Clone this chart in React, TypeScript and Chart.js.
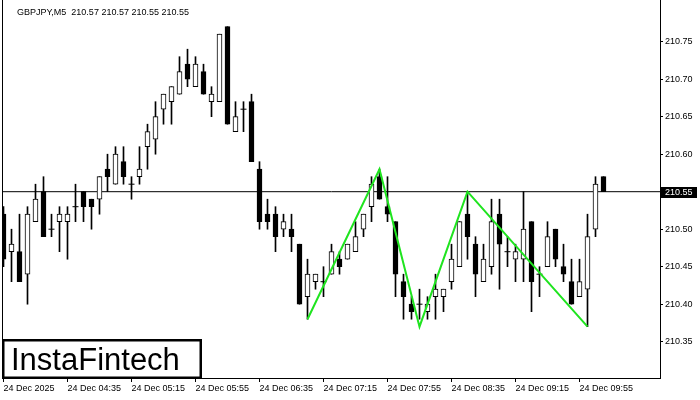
import React, { useEffect, useRef } from "react";
import { Chart, registerables } from "chart.js";

Chart.register(...registerables);

const symbol = "GBPJPY,M5";
const tickIdx = [0, 8, 16, 24, 32, 40, 48, 56, 64, 72];
const tickLabels = [
  "24 Dec 2025", "24 Dec 04:35", "24 Dec 05:15", "24 Dec 05:55", "24 Dec 06:35",
  "24 Dec 07:15", "24 Dec 07:55", "24 Dec 08:35", "24 Dec 09:15", "24 Dec 09:55",
];
const priceTicks = [210.35, 210.4, 210.45, 210.5, 210.55, 210.6, 210.65, 210.7, 210.75];

const open = [
  210.52, 210.47, 210.47, 210.44, 210.51, 210.55, 210.50, 210.51, 210.51, 210.53,
  210.55, 210.54, 210.54, 210.58, 210.56, 210.59, 210.56, 210.57, 210.61, 210.62,
  210.66, 210.67, 210.68, 210.72, 210.69, 210.71, 210.67, 210.67, 210.77, 210.63,
  210.66, 210.67, 210.58, 210.52, 210.52, 210.50, 210.50, 210.48, 210.41, 210.43,
  210.43, 210.44, 210.46, 210.46, 210.47, 210.50, 210.53, 210.57, 210.53, 210.51,
  210.43, 210.40, 210.40, 210.39, 210.41, 210.41, 210.43, 210.45, 210.52, 210.48,
  210.43, 210.45, 210.52, 210.47, 210.46, 210.46, 210.51, 210.44, 210.45, 210.50,
  210.45, 210.43, 210.41, 210.42, 210.50, 210.57,
];
const high = [
  210.53, 210.50, 210.52, 210.53, 210.56, 210.57, 210.52, 210.53, 210.53, 210.56,
  210.55, 210.54, 210.57, 210.60, 210.61, 210.61, 210.57, 210.61, 210.64, 210.67,
  210.68, 210.69, 210.73, 210.74, 210.73, 210.72, 210.69, 210.76, 210.77, 210.67,
  210.67, 210.68, 210.59, 210.54, 210.53, 210.52, 210.52, 210.48, 210.46, 210.44,
  210.45, 210.48, 210.47, 210.48, 210.51, 210.52, 210.57, 210.58, 210.57, 210.51,
  210.44, 210.41, 210.42, 210.41, 210.44, 210.42, 210.48, 210.51, 210.55, 210.49,
  210.48, 210.54, 210.54, 210.49, 210.48, 210.55, 210.51, 210.45, 210.51, 210.50,
  210.48, 210.46, 210.46, 210.52, 210.57, 210.57,
];
const low = [
  210.45, 210.43, 210.43, 210.40, 210.51, 210.49, 210.49, 210.47, 210.46, 210.51,
  210.51, 210.50, 210.52, 210.55, 210.56, 210.56, 210.54, 210.56, 210.58, 210.60,
  210.64, 210.64, 210.68, 210.69, 210.69, 210.68, 210.65, 210.67, 210.64, 210.63,
  210.63, 210.59, 210.50, 210.50, 210.47, 210.49, 210.47, 210.40, 210.38, 210.42,
  210.41, 210.44, 210.44, 210.46, 210.47, 210.49, 210.51, 210.54, 210.51, 210.41,
  210.38, 210.38, 210.38, 210.38, 210.38, 210.39, 210.42, 210.45, 210.46, 210.41,
  210.43, 210.44, 210.42, 210.45, 210.43, 210.43, 210.39, 210.41, 210.45, 210.45,
  210.43, 210.40, 210.41, 210.37, 210.49, 210.55,
];
const close = [
  210.46, 210.48, 210.43, 210.52, 210.54, 210.49, 210.50, 210.52, 210.52, 210.53,
  210.53, 210.53, 210.57, 210.57, 210.60, 210.57, 210.56, 210.58, 210.63, 210.65,
  210.68, 210.69, 210.71, 210.70, 210.72, 210.68, 210.68, 210.76, 210.64, 210.65,
  210.66, 210.59, 210.51, 210.51, 210.49, 210.51, 210.49, 210.40, 210.44, 210.44,
  210.43, 210.47, 210.45, 210.48, 210.49, 210.52, 210.56, 210.54, 210.52, 210.44,
  210.41, 210.39, 210.40, 210.40, 210.42, 210.42, 210.46, 210.51, 210.49, 210.44,
  210.46, 210.51, 210.48, 210.47, 210.47, 210.50, 210.43, 210.44, 210.49, 210.46,
  210.44, 210.40, 210.43, 210.49, 210.56, 210.55,
];

const patternIdx = [38, 47, 52, 58, 73];
const patternPrice = [210.38, 210.58, 210.37, 210.55, 210.37];
const bidPrice = 210.55;
const logoText = "InstaFintech";

const X_MIN = -0.0625;
const X_MAX = 82.0625;
const Y_MIN = 210.3016;
const Y_MAX = 210.8056;
const FONT = "'Liberation Sans', Arial, sans-serif";

const decor = {
  id: "decor",
  afterDraw(chart: any) {
    const { ctx, chartArea: a, scales } = chart;
    const ys = scales.y;
    ctx.save();
    // left frame line
    ctx.strokeStyle = "#000";
    ctx.lineWidth = 1;
    ctx.beginPath();
    ctx.moveTo(2.5, 0);
    ctx.lineTo(2.5, a.bottom);
    ctx.stroke();
    // title
    const last = close.length - 1;
    const title = `${symbol}  ${open[last].toFixed(2)} ${high[last].toFixed(2)} ${low[last].toFixed(2)} ${close[last].toFixed(2)}`;
    ctx.fillStyle = "#000";
    ctx.font = `9px ${FONT}`;
    ctx.textBaseline = "middle";
    ctx.textAlign = "left";
    ctx.fillText(title, 17, 12.5);
    // bid price box
    const py = Math.round(ys.getPixelForValue(bidPrice));
    ctx.fillStyle = "#000";
    ctx.fillRect(661, py - 5, 36, 11);
    ctx.fillStyle = "#fff";
    ctx.fillText(bidPrice.toFixed(2), 665, py + 0.5);
    // logo box
    ctx.fillStyle = "#fff";
    ctx.fillRect(3, 340, 198, 38);
    ctx.strokeStyle = "#000";
    ctx.lineWidth = 2.5;
    ctx.strokeRect(3.25, 340.25, 197.5, 37.5);
    ctx.fillStyle = "#000";
    ctx.font = `31px ${FONT}`;
    ctx.textBaseline = "alphabetic";
    ctx.fillText(logoText, 11, 370);
    ctx.restore();
  },
};

export default function App() {
  const ref = useRef<HTMLCanvasElement | null>(null);
  useEffect(() => {
    if (!ref.current) return;
    const idx = open.map((_, i) => i);
    const dojiIdx = idx.filter((i) => open[i] === close[i]);
    const chart = new Chart(ref.current, {
      type: "bar",
      data: {
        datasets: [
          {
            type: "line",
            label: "pattern",
            data: patternIdx.map((x, k) => ({ x, y: patternPrice[k] })),
            borderColor: "#1fe41f",
            borderWidth: 2,
            pointRadius: 0,
            order: -1,
          } as any,
          {
            type: "scatter",
            label: "doji",
            data: dojiIdx.map((i) => ({ x: i, y: open[i] })),
            pointStyle: "line",
            radius: 3,
            borderColor: "#000",
            borderWidth: 1,
            order: 0,
          } as any,
          {
            type: "bar",
            label: "body",
            data: idx.filter((i) => open[i] !== close[i]).map((i) => ({ x: i, y: [open[i], close[i]] })),
            barThickness: 5,
            grouped: false,
            borderWidth: 1,
            borderSkipped: false,
            borderColor: "#000",
            backgroundColor: (c: any) => {
              const raw = c.raw;
              if (!raw) return "#fff";
              return raw.y[1] > raw.y[0] ? "#fff" : "#000";
            },
            order: 1,
          } as any,
          {
            type: "bar",
            label: "wick",
            data: idx.map((i) => ({ x: i, y: [low[i], high[i]] })),
            barThickness: 1,
            grouped: false,
            borderWidth: 0,
            backgroundColor: "#000",
            order: 2,
          } as any,
          {
            type: "line",
            label: "bid",
            data: [
              { x: X_MIN, y: bidPrice },
              { x: X_MAX, y: bidPrice },
            ],
            borderColor: "#000",
            borderWidth: 1,
            pointRadius: 0,
            order: 3,
          } as any,
        ],
      },
      options: {
        animation: false,
        responsive: false,
        devicePixelRatio: 1,
        events: [],
        layout: { autoPadding: false, padding: { left: 3, right: 0, top: 0, bottom: 0 } },
        plugins: { legend: { display: false }, tooltip: { enabled: false } },
        scales: {
          x: {
            type: "linear",
            min: X_MIN,
            max: X_MAX,
            offset: false,
            grid: { display: true, drawOnChartArea: false, drawTicks: true, tickLength: 4, color: "#000", offset: false },
            border: { display: true, color: "#000", width: 1 },
            afterBuildTicks: (s: any) => {
              s.ticks = tickIdx.map((v) => ({ value: v }));
            },
            afterFit: (s: any) => {
              s.height = 22;
              s.paddingLeft = 0;
              s.paddingRight = 0;
            },
            ticks: {
              autoSkip: false,
              maxRotation: 0,
              minRotation: 0,
              align: "start",
              padding: 1,
              color: "#000",
              font: { family: FONT, size: 9 },
              callback: (_v: any, i: number) => tickLabels[i],
            },
          },
          y: {
            type: "linear",
            position: "right",
            min: Y_MIN,
            max: Y_MAX,
            beginAtZero: false,
            grid: { display: true, drawOnChartArea: false, drawTicks: true, tickLength: 3, color: "#000" },
            border: { display: true, color: "#000", width: 1 },
            afterBuildTicks: (s: any) => {
              s.ticks = priceTicks.map((v) => ({ value: v }));
            },
            afterFit: (s: any) => {
              s.width = 40;
              s.paddingTop = 0;
              s.paddingBottom = 0;
            },
            ticks: {
              padding: 2,
              color: "#000",
              font: { family: FONT, size: 9 },
              callback: (v: any) => Number(v).toFixed(2),
            },
          },
        },
      },
      plugins: [decor],
    });
    return () => chart.destroy();
  }, []);
  return (
    <div style={{ position: "absolute", left: 0, top: 0, width: 700, height: 400, background: "#fff" }}>
      <canvas ref={ref} width={700} height={400} />
    </div>
  );
}
